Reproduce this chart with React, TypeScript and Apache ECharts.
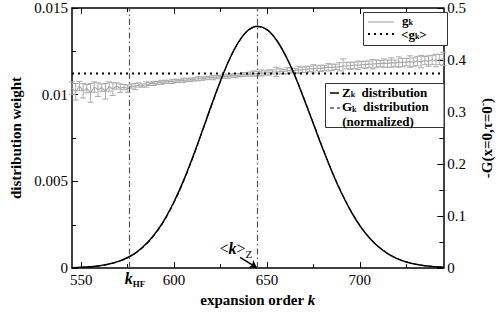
import React, { useEffect, useRef } from "react";
import * as echarts from "echarts";

const FONT = "Liberation Serif";

// expansion order k for the distributions
const K_ORDERS = [545, 550, 555, 560, 565, 570, 575, 580, 585, 590, 595, 600, 605, 610, 615, 620, 625, 630, 635, 640, 645, 650, 655, 660, 665, 670, 675, 680, 685, 690, 695, 700, 705, 710, 715, 720, 725, 730, 735, 740, 745];
const Z_DIST = [0.000024, 0.000044, 0.00008, 0.00014, 0.000235, 0.000386, 0.00061, 0.00094, 0.0014, 0.00203, 0.00283, 0.00384, 0.00503, 0.00639, 0.00786, 0.00937, 0.01081, 0.01209, 0.01309, 0.01373, 0.01395, 0.01375, 0.01317, 0.01226, 0.01109, 0.00974, 0.00832, 0.0069, 0.00556, 0.00436, 0.00332, 0.00245, 0.00176, 0.00123, 0.00084, 0.00055, 0.00035, 0.00022, 0.00013, 0.00008, 0.000045];
const G_DIST = [0.00002, 0.00004, 0.000075, 0.00013, 0.00022, 0.00037, 0.00059, 0.00091, 0.00136, 0.00198, 0.00278, 0.00378, 0.00497, 0.00633, 0.00781, 0.00933, 0.01078, 0.01206, 0.01306, 0.0137, 0.01392, 0.01374, 0.01318, 0.01228, 0.01112, 0.00978, 0.00836, 0.00694, 0.0056, 0.0044, 0.00336, 0.00249, 0.00179, 0.00126, 0.00086, 0.00057, 0.00037, 0.00023, 0.00014, 0.00009, 0.00005];

// g_k (right axis) with error bars
const GK_ORDERS = [545, 547, 549, 551, 553, 555, 557, 559, 561, 563, 565, 567, 569, 571, 573, 575, 577, 579, 581, 583, 585, 587, 589, 591, 593, 595, 597, 599, 601, 603, 605, 607, 609, 611, 613, 615, 617, 619, 621, 623, 625, 627, 629, 631, 633, 635, 637, 639, 641, 643, 645, 647, 649, 651, 653, 655, 657, 659, 661, 663, 665, 667, 669, 671, 673, 675, 677, 679, 681, 683, 685, 687, 689, 691, 693, 695, 697, 699, 701, 703, 705, 707, 709, 711, 713, 715, 717, 719, 721, 723, 725, 727, 729, 731, 733, 735, 737, 739, 741, 743, 745];
const GK_VALUES = [0.346, 0.339, 0.35, 0.341, 0.345, 0.337, 0.348, 0.343, 0.347, 0.34, 0.349, 0.344, 0.35, 0.346, 0.348, 0.345, 0.35, 0.349, 0.352, 0.351, 0.353, 0.354, 0.355, 0.356, 0.357, 0.358, 0.358, 0.359, 0.36, 0.36, 0.361, 0.362, 0.362, 0.363, 0.364, 0.364, 0.365, 0.366, 0.366, 0.367, 0.368, 0.368, 0.369, 0.37, 0.37, 0.371, 0.372, 0.372, 0.373, 0.374, 0.374, 0.375, 0.375, 0.376, 0.377, 0.377, 0.378, 0.378, 0.379, 0.38, 0.38, 0.381, 0.381, 0.382, 0.383, 0.383, 0.384, 0.384, 0.385, 0.386, 0.386, 0.387, 0.387, 0.388, 0.389, 0.389, 0.39, 0.39, 0.391, 0.391, 0.392, 0.392, 0.393, 0.393, 0.394, 0.393, 0.395, 0.394, 0.396, 0.395, 0.396, 0.397, 0.396, 0.398, 0.397, 0.399, 0.398, 0.4, 0.399, 0.401, 0.402];
const GK_ERRORS = [0.012, 0.016, 0.009, 0.014, 0.008, 0.018, 0.01, 0.013, 0.007, 0.015, 0.009, 0.012, 0.006, 0.008, 0.005, 0.007, 0.004, 0.006, 0.004, 0.003, 0.005, 0.003, 0.004, 0.003, 0.004, 0.003, 0.003, 0.004, 0.003, 0.003, 0.004, 0.003, 0.003, 0.003, 0.004, 0.003, 0.003, 0.003, 0.004, 0.003, 0.003, 0.003, 0.004, 0.003, 0.004, 0.003, 0.004, 0.003, 0.004, 0.005, 0.004, 0.006, 0.004, 0.005, 0.004, 0.009, 0.005, 0.004, 0.006, 0.005, 0.004, 0.007, 0.005, 0.006, 0.005, 0.008, 0.005, 0.006, 0.005, 0.007, 0.006, 0.005, 0.008, 0.014, 0.006, 0.007, 0.006, 0.008, 0.006, 0.007, 0.006, 0.009, 0.007, 0.006, 0.008, 0.007, 0.009, 0.006, 0.01, 0.008, 0.007, 0.011, 0.008, 0.009, 0.012, 0.008, 0.01, 0.009, 0.012, 0.01, 0.013];
const GK_AVERAGE = 0.374;

const K_HF = 575.6;
const K_MEAN_Z = 645;
const ARROW_FROM = [635.5, 0.00062];
const ARROW_TO = [644.5, 0.00003];

const X_MAJOR = [550, 600, 650, 700];
const X_MINOR = [575, 625, 675, 725];

export default function App() {
  const ref = useRef<HTMLDivElement>(null);
  useEffect(() => {
    if (!ref.current) return;
    const chart = echarts.init(ref.current, undefined, { renderer: "svg" });
    const black = "#000";
    const xCommon = (position: string, ticks: number[], len: number, showLine: boolean, showLabel: boolean) => ({
      type: "value",
      min: 545,
      max: 745,
      position,
      axisLine: { show: showLine, onZero: false, lineStyle: { color: black, width: 1.5 } },
      axisTick: { show: true, inside: true, length: len, customValues: ticks, lineStyle: { color: black, width: 1 } },
      axisLabel: showLabel
        ? { show: true, customValues: ticks, fontSize: 15, fontFamily: FONT, color: black, margin: 4 }
        : { show: false },
      splitLine: { show: false },
    });
    const option: any = {
      animation: false,
      textStyle: { fontFamily: FONT },
      grid: { left: 72, right: 51, top: 8, bottom: 39 },
      xAxis: [
        {
          ...xCommon("bottom", X_MAJOR, 6, true, true),
          name: "{a|expansion order }{b|k}",
          nameLocation: "middle",
          nameGap: 18,
          nameTextStyle: {
            rich: {
              a: { fontFamily: FONT, fontWeight: "bold", fontSize: 15, color: black },
              b: { fontFamily: FONT, fontWeight: "bold", fontStyle: "italic", fontSize: 15, color: black },
            },
          },
        },
        xCommon("bottom", X_MINOR, 4, false, false),
        xCommon("top", X_MAJOR, 6, true, false),
        xCommon("top", X_MINOR, 4, false, false),
      ],
      yAxis: [
        {
          type: "value",
          min: 0,
          max: 0.015,
          interval: 0.005,
          position: "left",
          axisLine: { show: true, onZero: false, lineStyle: { color: black, width: 1.5 } },
          axisTick: { show: true, inside: true, length: 6, lineStyle: { color: black } },
          minorTick: { show: true, splitNumber: 2, length: 4, lineStyle: { color: black } },
          axisLabel: { fontSize: 15, fontFamily: FONT, color: black, margin: 4 },
          splitLine: { show: false },
          minorSplitLine: { show: false },
          name: "distribution weight",
          nameLocation: "middle",
          nameRotate: 90,
          nameGap: 42,
          nameTextStyle: { fontFamily: FONT, fontWeight: "bold", fontSize: 15, color: black },
        },
        {
          type: "value",
          min: 0,
          max: 0.5,
          interval: 0.1,
          position: "right",
          axisLine: { show: true, onZero: false, lineStyle: { color: black, width: 1.5 } },
          axisTick: { show: true, inside: true, length: 6, lineStyle: { color: black } },
          minorTick: { show: true, splitNumber: 2, length: 4, lineStyle: { color: black } },
          axisLabel: { fontSize: 15, fontFamily: FONT, color: black, margin: 4 },
          splitLine: { show: false },
          minorSplitLine: { show: false },
          name: "{a|-G(x=0,τ=0}{s|-}{a|)}",
          nameLocation: "middle",
          nameRotate: 90,
          nameGap: 30,
          nameTextStyle: {
            rich: {
              a: { fontFamily: FONT, fontWeight: "bold", fontSize: 15, color: black, verticalAlign: "bottom" },
              s: { fontFamily: FONT, fontWeight: "bold", fontSize: 10, color: black, verticalAlign: "bottom", padding: [0, 0, 7, 0] },
            },
          },
        },
      ],
      series: [
        {
          name: "gk",
          type: "line",
          xAxisIndex: 0,
          yAxisIndex: 1,
          data: GK_ORDERS.map((k, i) => [k, GK_VALUES[i]]),
          showSymbol: false,
          lineStyle: { color: "#aaa", width: 1.2 },
          z: 1,
        },
        {
          name: "gkErr",
          type: "custom",
          xAxisIndex: 0,
          yAxisIndex: 1,
          data: GK_ORDERS.map((k, i) => [k, GK_VALUES[i], GK_ERRORS[i]]),
          encode: { x: 0, y: 1 },
          z: 1,
          renderItem: (params: any, api: any) => {
            const x = api.value(0);
            const y = api.value(1);
            const e = api.value(2);
            const t = api.coord([x, y + e]);
            const b = api.coord([x, y - e]);
            const cap = 3;
            const st = { stroke: "#aaa", lineWidth: 1 };
            return {
              type: "group",
              children: [
                { type: "line", shape: { x1: t[0], y1: t[1], x2: b[0], y2: b[1] }, style: st },
                { type: "line", shape: { x1: t[0] - cap, y1: t[1], x2: t[0] + cap, y2: t[1] }, style: st },
                { type: "line", shape: { x1: b[0] - cap, y1: b[1], x2: b[0] + cap, y2: b[1] }, style: st },
              ],
            };
          },
        },
        {
          name: "avg",
          type: "line",
          xAxisIndex: 0,
          yAxisIndex: 1,
          data: [[545, GK_AVERAGE], [745, GK_AVERAGE]],
          showSymbol: false,
          lineStyle: { color: black, width: 2, type: [2, 4] },
          z: 2,
          markLine: {
            silent: true,
            symbol: "none",
            label: { show: false },
            lineStyle: { color: "#555", width: 1.2, type: [6, 3, 1.5, 3] },
            data: [{ xAxis: K_HF }, { xAxis: K_MEAN_Z }],
          },
        },
        {
          name: "Z",
          type: "line",
          xAxisIndex: 0,
          yAxisIndex: 0,
          data: K_ORDERS.map((k, i) => [k, Z_DIST[i]]),
          showSymbol: false,
          smooth: 0.4,
          lineStyle: { color: black, width: 1.5 },
          z: 3,
        },
        {
          name: "G",
          type: "line",
          xAxisIndex: 0,
          yAxisIndex: 0,
          data: K_ORDERS.map((k, i) => [k, G_DIST[i]]),
          showSymbol: false,
          smooth: 0.4,
          lineStyle: { color: black, width: 1, type: [5, 3] },
          z: 3,
          markLine: {
            silent: true,
            symbol: ["none", "arrow"],
            symbolSize: 7,
            label: { show: false },
            lineStyle: { color: black, width: 1.5, type: "solid" },
            data: [[{ coord: ARROW_FROM }, { coord: ARROW_TO }]],
          },
        },
      ],
    };
    chart.setOption(option);

    const pHF = chart.convertToPixel({ xAxisIndex: 0, yAxisIndex: 0 }, [K_HF, 0]) as number[];
    const pA = chart.convertToPixel({ xAxisIndex: 0, yAxisIndex: 0 }, ARROW_FROM) as number[];

    // rich text with a main font and a subscript font
    const rich = (x: number, y: number, text: string, size: number, subSize: number, subDrop: number, vAlign = "middle", extraRich: any = {}) => ({
      type: "text",
      x,
      y,
      z: 100,
      style: {
        text,
        align: "left",
        verticalAlign: vAlign,
        rich: {
          m: { font: `bold ${size}px "${FONT}"`, fill: black, verticalAlign: "top" },
          s: { font: `bold ${subSize}px "${FONT}"`, fill: black, verticalAlign: "top", padding: [subDrop, 0, 0, 0] },
          ...extraRich,
        },
      },
    });
    const L = (x1: number, y1: number, x2: number, y2: number, stroke: string, lineWidth: number, lineDash?: number[]) => ({
      type: "line",
      z: 100,
      shape: { x1, y1, x2, y2 },
      style: { stroke, lineWidth, lineDash },
    });
    chart.setOption({
      graphic: [
        // k_HF label
        rich(pHF[0] - 4, pHF[1] + 2, "{k|k}{s|HF}", 16, 9, 9, "top", {
          k: { font: `italic bold 16px "${FONT}"`, fill: black, verticalAlign: "top" },
        }),
        // <k>_Z label
        rich(pA[0] - 20.5, pA[1] - 17, "{a|<}{k|k}{a|>}{z|Z}", 16, 11, 8, "top", {
          a: { font: `16px "${FONT}"`, fill: black, verticalAlign: "top" },
          k: { font: `italic bold 16px "${FONT}"`, fill: black, verticalAlign: "top" },
          z: { font: `11px "${FONT}"`, fill: black, verticalAlign: "top", padding: [8, 0, 0, 0] },
        }),
        // legend 1
        { type: "rect", z: 99, shape: { x: 363.5, y: 12.5, width: 84, height: 33 }, style: { fill: "#fff", stroke: "#333", lineWidth: 1 } },
        L(368, 22, 394, 22, "#aaa", 1.2),
        rich(402, 13.5, "{m|g}{s|k}", 13, 8, 5, "top"),
        L(368, 34, 394, 34, black, 2, [2, 4]),
        rich(401, 27.5, "{m|<g}{s|k}{m|>}", 13, 8, 5, "top"),
        // legend 2
        { type: "rect", z: 99, shape: { x: 325.5, y: 83.5, width: 118.5, height: 44 }, style: { fill: "#fff", stroke: "#333", lineWidth: 1 } },
        L(330, 93, 339, 93, black, 1.5),
        rich(342, 85.5, "{m|Z}{s|k}{m|  distribution}", 13, 8, 5, "top"),
        L(330, 108, 340, 108, black, 1, [4, 3]),
        rich(342, 100, "{m|G}{s|k}{m|  distribution}", 13, 8, 5, "top"),
        {
          type: "text",
          x: 378,
          y: 121,
          z: 100,
          style: { text: "(normalized)", font: `bold 13px "${FONT}"`, fill: black, align: "center", verticalAlign: "middle" },
        },
      ],
    });
    return () => chart.dispose();
  }, []);
  return <div ref={ref} style={{ width: 502, height: 312, position: "absolute", left: 0, top: 0, background: "#fff" }} />;
}
